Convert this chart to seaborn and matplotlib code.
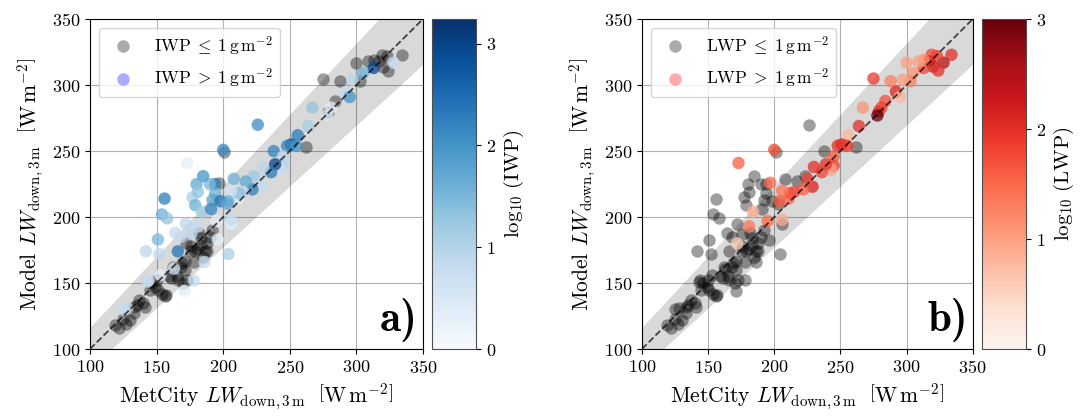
import numpy as np
import pandas as pd
import matplotlib
matplotlib.use("Agg")
import matplotlib.pyplot as plt
import seaborn as sns
from matplotlib.colors import Normalize
from matplotlib.cm import ScalarMappable
from matplotlib.lines import Line2D

N = np.nan

# MetCity observed LW down (W m-2)
metcity = [334, 328, 323, 319, 317, 320, 313, 324, 313, 309, 300, 305, 303, 297, 288, 275, 292, 295, 284, 281,
           279, 278, 267, 264, 256, 262, 251, 248, 255, 238, 245, 245, 243, 239, 236, 230, 229, 225, 223, 222,
           217, 215, 211, 212, 206, 204, 208, 200, 201, 226, 197, 194, 190, 194, 192, 198, 203, 206, 206, 204,
           195, 196, 185, 180, 177, 181, 179, 184, 191, 181, 173, 156, 154, 158, 151, 152, 142, 164, 172, 176,
           172, 168, 166, 186, 186, 176, 183, 171, 173, 157, 143, 125, 153, 122, 127, 130, 133, 133, 135, 140,
           141, 145, 149, 151, 154, 156, 159, 161, 165, 166, 170, 169, 171, 168, 180, 183, 188, 188, 179, 185,
           171, 119, 125, 137, 146, 150, 162, 176, 178, 190, 192, 128, 144, 178, 163, 182]
# Model LW down (W m-2)
model = [323, 317, 322, 323, 318, 314, 313, 311, 319, 318, 317, 309, 303, 304, 303, 305, 295, 291, 288, 283,
         280, 277, 283, 269, 262, 253, 255, 254, 254, 250, 246, 239, 236, 240, 234, 238, 223, 229, 231, 221,
         227, 219, 214, 218, 220, 212, 229, 251, 249, 270, 226, 225, 225, 218, 213, 212, 210, 195, 198, 172,
         197, 183, 231, 225, 215, 219, 209, 204, 206, 193, 241, 214, 202, 199, 183, 172, 174, 188, 180, 187,
         195, 185, 174, 174, 166, 174, 184, 144, 152, 141, 151, 130, 156, 116, 119, 122, 127, 132, 133, 135,
         132, 145, 147, 145, 142, 140, 155, 154, 155, 152, 150, 165, 167, 162, 176, 179, 180, 174, 174, 170,
         160, 118, 123, 137, 150, 152, 162, 178, 166, 185, 190, 131, 152, 152, 161, 188]
# log10 of ice water path (NaN: IWP <= 1 g m-2)
log_iwp = [N, 0.8, N, N, N, N, 2.9, N, N, N, N, 1.6, N, 0.9, N, N, 0.8, 2.0, N, 0.3,
           N, 0.5, 1.3, 1.1, 2.3, N, 2.9, 2.2, 2.0, 2.2, 0.9, 1.0, 0.7, 3.0, 2.3, 0.9, 0.8, 0.9, 1.2, 2.3,
           1.7, 0.8, 0.3, 1.4, 0.6, 1.6, 1.6, 2.1, N, 2.1, N, 2.3, 1.5, 1.6, 1.8, 2.4, 1.7, 0.3, 0.8, 1.1,
           0.3, 0.3, 2.0, 1.7, 1.1, 1.3, 1.6, 1.2, 2.2, 0.8, 0.3, 2.3, 1.6, 1.3, 1.5, 0.9, 0.9, 0.8, N, 0.9,
           0.9, 0.8, 2.4, N, 0.8, N, N, 0.3, N, N, 0.9, 0.8, 0.3, N, N, N, N, N, N, N,
           N, N, N, N, N, N, N, N, N, N, N, N, N, N, N, N, N, N, N, N,
           N, N, N, N, N, N, N, N, N, N, N, 0.8, 0.7, 0.8, 0.6, N]
# log10 of liquid water path (NaN: LWP <= 1 g m-2)
log_lwp = [2.0, 2.5, 1.9, 1.8, 2.1, 2.3, 1.8, 2.0, 1.2, 1.0, 1.0, 1.1, 1.3, 1.0, 1.3, 1.9, 2.1, 0.8, 1.7, 1.8,
           2.0, 3.0, 1.1, 2.0, 0.8, N, 2.2, 2.0, 1.9, N, 1.6, 1.8, 1.0, 2.0, 1.8, 2.0, 2.1, 1.8, N, 1.6,
           N, 1.8, 1.5, 1.7, 1.4, 1.6, N, 1.7, N, N, 1.5, N, N, N, N, N, N, N, 0.9, N,
           1.5, N, N, N, N, N, N, 0.9, N, 1.4, 1.6, N, N, N, N, N, N, N, 0.6, N,
           N, N, N, N, N, N, N, N, N, N, N, N, N, N, N, N, N, N, N, N,
           N, N, N, N, N, N, N, N, N, N, N, N, N, N, N, N, N, N, N, N,
           N, N, N, N, N, N, N, N, N, N, N, N, N, N, N, N]

axis_ticks = [100, 150, 200, 250, 300, 350]

plt.rcParams.update({
    "font.family": "serif",
    "font.serif": ["cmr10"],
    "mathtext.fontset": "cm",
    "axes.formatter.use_mathtext": True,
    "axes.unicode_minus": False,
})

fig = plt.figure(figsize=(10.88, 4.16), dpi=100)
ax1 = fig.add_axes([0.0827, 0.161, 0.306, 0.793])
cax1 = fig.add_axes([0.397, 0.161, 0.0404, 0.793])
ax2 = fig.add_axes([0.590, 0.161, 0.304, 0.793])
cax2 = fig.add_axes([0.9026, 0.161, 0.0404, 0.793])

df = pd.DataFrame({"metcity": metcity, "model": model, "iwp": log_iwp, "lwp": log_lwp})


def panel(ax, cax, col, cmap, vmax, name, legcolor, letter):
    xs = np.array([80.0, 370.0])
    half = 8 + 0.077 * xs
    ax.fill_between(xs, xs - half, xs + half, color="k", alpha=0.15, lw=0, zorder=1)
    ax.plot([100, 350], [100, 350], ls="--", color="k", lw=1.3, alpha=0.7, zorder=4)
    thin = df[df[col].isna()]
    thick = df[df[col].notna()]
    sns.scatterplot(data=thin, x="metcity", y="model", color="k", alpha=0.38, s=80,
                    linewidth=0, ax=ax, zorder=2, legend=False)
    norm = Normalize(0, vmax)
    sns.scatterplot(data=thick, x="metcity", y="model", hue=col, palette=cmap, hue_norm=norm,
                    alpha=0.75, s=80, linewidth=0, ax=ax, zorder=3, legend=False)
    ax.set_xlim(100, 350)
    ax.set_ylim(100, 350)
    ax.set_xticks(axis_ticks)
    ax.set_yticks(axis_ticks)
    ax.tick_params(labelsize=13)
    ax.grid(True, color="#b0b0b0", lw=0.8)
    ax.set_axisbelow(True)
    ax.set_xlabel(r"MetCity $LW_{\mathrm{down,3\,m}}\ \ \left[\mathrm{W\,m^{-2}}\right]$", fontsize=15.5)
    ax.set_ylabel(r"Model $LW_{\mathrm{down,3\,m}}\ \ \left[\mathrm{W\,m^{-2}}\right]$", fontsize=15.5)
    handles = [
        Line2D([], [], ls="", marker="o", ms=9, mec="none", mfc="k", alpha=0.33),
        Line2D([], [], ls="", marker="o", ms=9, mec="none", mfc=legcolor, alpha=0.33),
    ]
    labels = [r"$\mathrm{" + name + r"}\;\leq\;1\,\mathrm{g\,m^{-2}}$",
              r"$\mathrm{" + name + r"}\;>\;1\,\mathrm{g\,m^{-2}}$"]
    ax.legend(handles, labels, loc="upper left", fontsize=12.5, framealpha=0.8)
    ax.text(0.985, 0.02, letter + ")", transform=ax.transAxes, family="cmb10",
            ha="right", va="bottom", fontsize=31, zorder=6)
    sm = ScalarMappable(norm=norm, cmap=cmap)
    cb = fig.colorbar(sm, cax=cax)
    cb.set_ticks([0, 1, 2, 3])
    cb.ax.tick_params(labelsize=13)
    cb.set_label(r"$\log_{10}\,(\mathrm{" + name + r"})$", fontsize=15)
    cb.outline.set_edgecolor("0.3")


panel(ax1, cax1, "iwp", "Blues", 3.24, "IWP", "blue", "a")
panel(ax2, cax2, "lwp", "Reds", 3.0, "LWP", "red", "b")

fig.savefig("out.png", dpi=100)
